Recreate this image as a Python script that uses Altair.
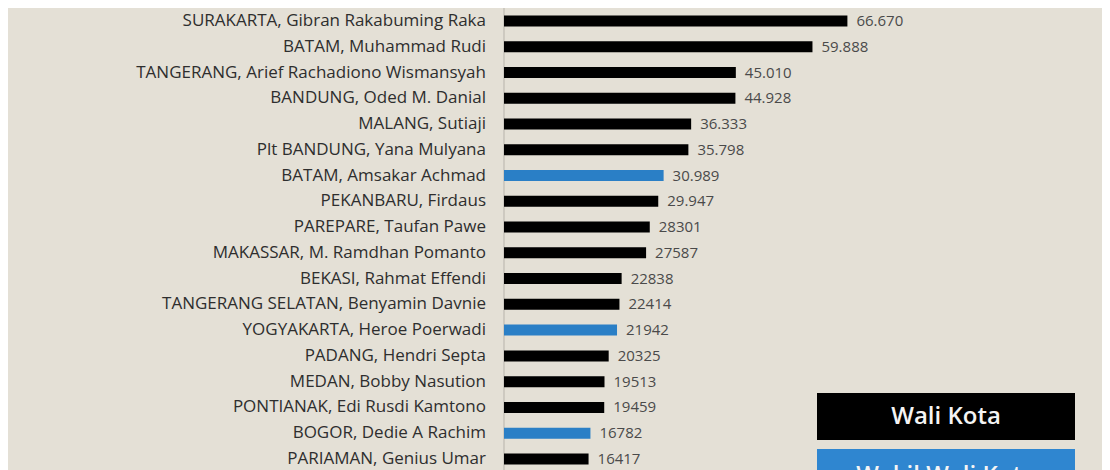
import altair as alt
import pandas as pd

# data (top row is cut off by the frame)
nama = [
    "SURABAYA, Eri Cahyadi",
    "SURAKARTA, Gibran Rakabuming Raka",
    "BATAM, Muhammad Rudi",
    "TANGERANG, Arief Rachadiono Wismansyah",
    "BANDUNG, Oded M. Danial",
    "MALANG, Sutiaji",
    "Plt BANDUNG, Yana Mulyana",
    "BATAM, Amsakar Achmad",
    "PEKANBARU, Firdaus",
    "PAREPARE, Taufan Pawe",
    "MAKASSAR, M. Ramdhan Pomanto",
    "BEKASI, Rahmat Effendi",
    "TANGERANG SELATAN, Benyamin Davnie",
    "YOGYAKARTA, Heroe Poerwadi",
    "PADANG, Hendri Septa",
    "MEDAN, Bobby Nasution",
    "PONTIANAK, Edi Rusdi Kamtono",
    "BOGOR, Dedie A Rachim",
    "PARIAMAN, Genius Umar",
]
suara = [72944, 66670, 59888, 45010, 44928, 36333, 35798, 30989, 29947, 28301,
         27587, 22838, 22414, 21942, 20325, 19513, 19459, 16782, 16417]
label_suara = ["72.944", "66.670", "59.888", "45.010", "44.928", "36.333", "35.798",
               "30.989", "29.947", "28301", "27587", "22838", "22414", "21942",
               "20325", "19513", "19459", "16782", "16417"]
jabatan = ["Wali Kota"] * len(nama)
for i in (7, 13, 17):
    jabatan[i] = "Wakil Wali Kota"

legend_items = ["Wali Kota", "Wakil Wali Kota"]
legend_colors = ["#000000", "#2f86d0"]
bar_colors = ["#000000", "#2a7fc6"]

df = pd.DataFrame({
    "nama": nama,
    "suara": suara,
    "label": label_suara,
    "jabatan": jabatan,
    "urutan": list(range(len(nama))),
    "nol": 0,
})

W, H = 598, 462
font = "Open Sans"

y = alt.Y("urutan:Q", axis=None,
          scale=alt.Scale(domain=[0.495, 18.43], reverse=True, nice=False,
                          zero=False, padding=0))
xscale = alt.Scale(domain=[0, 116100], nice=False, padding=0)
x = alt.X("suara:Q", axis=None, scale=xscale)
x0 = alt.X("nol:Q", axis=None, scale=xscale)

base = alt.Chart(df)

bars = base.mark_bar(orient="horizontal", size=11, clip=True).encode(
    x=x,
    y=y,
    color=alt.Color("jabatan:N", legend=None,
                    scale=alt.Scale(domain=legend_items, range=bar_colors)),
)

axis_line = base.mark_rule(color="#cdc9c0", strokeWidth=1).encode(
    x=x0, y=alt.value(0), y2=alt.value(H)
)

names = base.mark_text(align="right", baseline="middle", dx=-18, font=font,
                       fontSize=17, color="#2e2e2e").encode(
    x=x0, y=y, text="nama:N"
)

values = base.mark_text(align="left", baseline="middle", dx=9, font=font,
                        fontSize=15, color="#4a4a4a").encode(
    x=x, y=y, text="label:N"
)

# legend boxes, bottom right
leg = pd.DataFrame({"t": legend_items})
leg1 = alt.Chart(leg.iloc[[0]])
leg2 = alt.Chart(leg.iloc[[1]])

box1 = leg1.mark_rect(color=legend_colors[0]).encode(
    x=alt.value(313), x2=alt.value(571), y=alt.value(385), y2=alt.value(432)
)
txt1 = leg1.mark_text(font=font, fontSize=24, fontWeight=600, color="#f4f4f4",
                      baseline="middle").encode(
    x=alt.value(442), y=alt.value(409), text="t:N"
)
box2 = leg2.mark_rect(color=legend_colors[1]).encode(
    x=alt.value(313), x2=alt.value(571), y=alt.value(441), y2=alt.value(500)
)
txt2 = leg2.mark_text(font=font, fontSize=24, fontWeight=600, color="#f4f4f4",
                      baseline="middle").encode(
    x=alt.value(442), y=alt.value(468), text="t:N"
)

chart = alt.layer(axis_line, bars, names, values, box1, txt1, box2, txt2).properties(
    width=W,
    height=H,
    padding={"left": 496, "top": 0, "right": 0, "bottom": 0},
    autosize=alt.AutoSizeParams(type="none"),
    background="#e4e0d6",
).configure_view(stroke=None)

chart.save("out.html", embed_options={"renderer": "svg", "actions": False})
